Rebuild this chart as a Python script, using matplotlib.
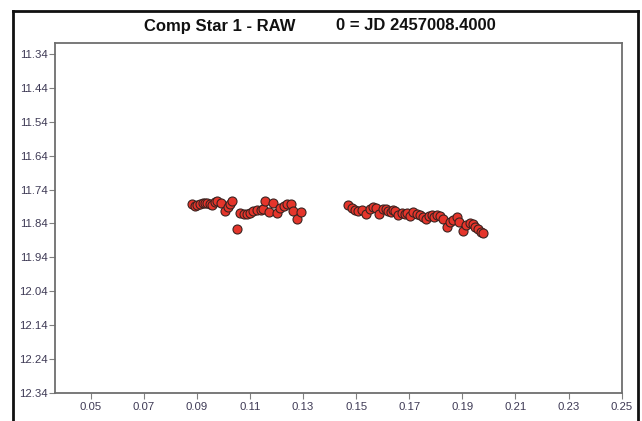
import matplotlib
matplotlib.use("Agg")
import matplotlib.pyplot as plt
from matplotlib.lines import Line2D

# Phase (days since JD 2457008.4000) and raw magnitude of comparison star 1
phase_a = [0.0881, 0.0893, 0.0902, 0.0912, 0.0922, 0.0931, 0.0940, 0.0950, 0.0959,
           0.0969, 0.0977, 0.0990, 0.1006, 0.1019, 0.1025, 0.1034, 0.1050, 0.1063,
           0.1076, 0.1089, 0.1102, 0.1113, 0.1127, 0.1140, 0.1151, 0.1157, 0.1170,
           0.1186, 0.1203, 0.1215, 0.1229, 0.1241, 0.1253, 0.1263, 0.1276, 0.1292]
mag_a = [11.782, 11.789, 11.785, 11.782, 11.779, 11.779, 11.779, 11.782, 11.785,
         11.777, 11.775, 11.779, 11.802, 11.792, 11.782, 11.775, 11.856, 11.809,
         11.812, 11.813, 11.810, 11.803, 11.800, 11.799, 11.797, 11.775, 11.807,
         11.779, 11.808, 11.794, 11.788, 11.782, 11.782, 11.803, 11.826, 11.807]

phase_b = [0.1471, 0.1483, 0.1496, 0.1508, 0.1521, 0.1537, 0.1552, 0.1565, 0.1573,
           0.1586, 0.1600, 0.1613, 0.1621, 0.1630, 0.1640, 0.1648, 0.1659, 0.1672,
           0.1684, 0.1692, 0.1703, 0.1715, 0.1728, 0.1741, 0.1753, 0.1763, 0.1776,
           0.1785, 0.1795, 0.1806, 0.1816, 0.1828, 0.1841, 0.1854, 0.1866, 0.1879,
           0.1889, 0.1903, 0.1914, 0.1929, 0.1939, 0.1949, 0.1960, 0.1970, 0.1979]
mag_b = [11.787, 11.794, 11.799, 11.804, 11.799, 11.813, 11.797, 11.792, 11.794,
         11.811, 11.797, 11.797, 11.804, 11.807, 11.799, 11.802, 11.816, 11.810,
         11.811, 11.809, 11.819, 11.807, 11.813, 11.816, 11.821, 11.826, 11.819,
         11.814, 11.821, 11.816, 11.819, 11.826, 11.850, 11.836, 11.829, 11.821,
         11.836, 11.863, 11.846, 11.839, 11.841, 11.851, 11.856, 11.864, 11.869]

x_ticks = [0.05, 0.07, 0.09, 0.11, 0.13, 0.15, 0.17, 0.19, 0.21, 0.23, 0.25]
y_ticks = [11.34, 11.44, 11.54, 11.64, 11.74, 11.84, 11.94, 12.04, 12.14, 12.24, 12.34]

title_left = "Comp Star 1 - RAW"
title_right = "0 = JD 2457008.4000"

plt.rcParams['font.family'] = ['Liberation Sans', 'DejaVu Sans']

W, H = 642, 421
fig = plt.figure(figsize=(W / 100, H / 100), dpi=100)
fig.patch.set_facecolor('white')

ax = fig.add_axes([54.5 / W, 1 - 392.7 / H, (621.7 - 54.5) / W, (392.7 - 43.3) / H])

ax.plot(phase_a + phase_b, mag_a + mag_b, linestyle='none', marker='o',
        markersize=6.5, markerfacecolor='#e5352b', markeredgecolor='#3b2320',
        markeredgewidth=0.8)

ax.set_xlim(0.0364, 0.25)
ax.set_ylim(12.34, 11.308)
ax.set_xticks(x_ticks)
ax.set_xticklabels([f"{v:.2f}" for v in x_ticks])
ax.set_yticks(y_ticks)
ax.set_yticklabels([f"{v:.2f}" for v in y_ticks])

label_color = '#3e3a55'
ax.tick_params(axis='both', direction='out', length=4, width=0.8, color='#808080',
               labelsize=8.2, labelcolor=label_color)
ax.tick_params(axis='y', pad=1)
ax.tick_params(axis='x', pad=2.5)
for sp in ax.spines.values():
    sp.set_color('#6e6e6e')
    sp.set_linewidth(1.3)

# Title in two parts
fig.text(296 / W, 1 - 26 / H, title_left, ha='right', va='center',
         fontsize=12, fontweight='bold', color='#111111')
fig.text(336 / W, 1 - 26 / H, title_right, ha='left', va='center',
         fontsize=12, fontweight='bold', color='#111111')

# Outer frame (open at the bottom edge of the image)
frame_kw = dict(color='#111111', linewidth=2.0, transform=fig.transFigure)
fig.add_artist(Line2D([13 / W, 13 / W], [0, 1 - 11 / H], **frame_kw))
fig.add_artist(Line2D([13 / W, 638 / W], [1 - 11 / H, 1 - 11 / H], **frame_kw))
fig.add_artist(Line2D([638 / W, 638 / W], [0, 1 - 11 / H], **frame_kw))

fig.savefig("out.png", dpi=100)
